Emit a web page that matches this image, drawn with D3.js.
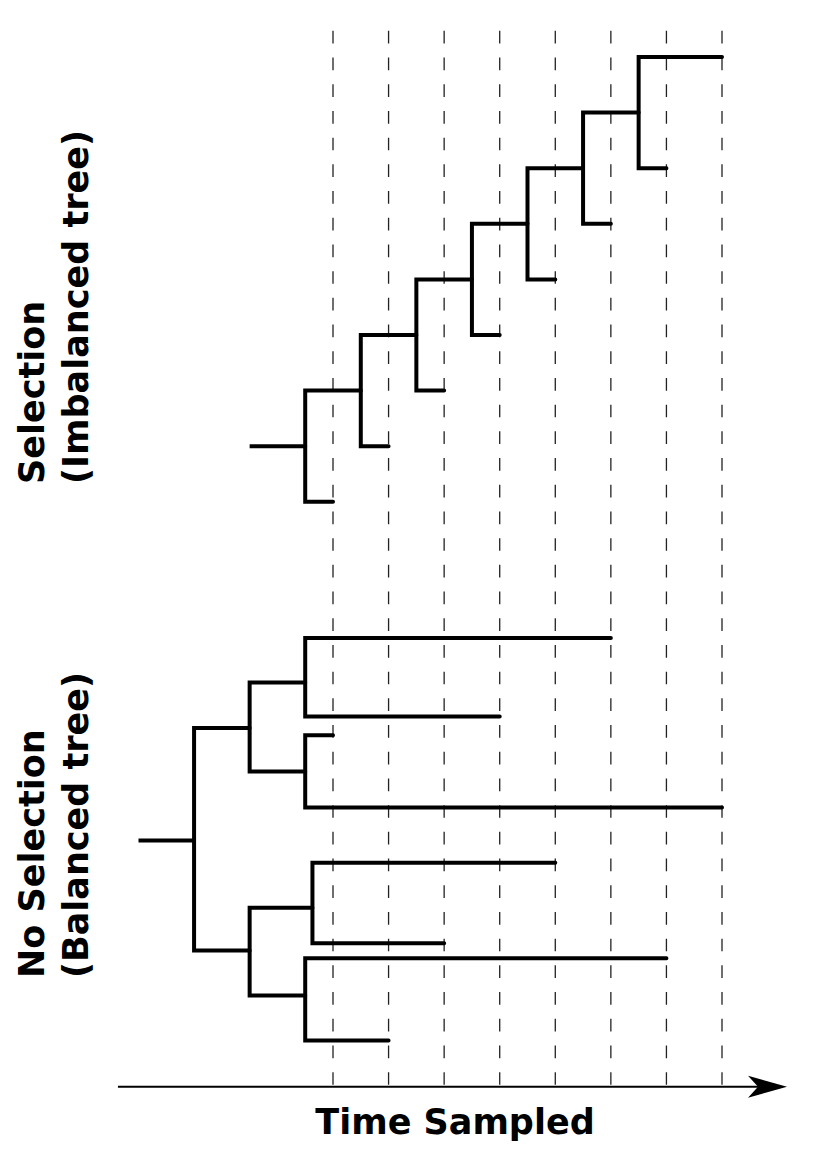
<!DOCTYPE html>
<html>
<head>
<meta charset="utf-8">
<script src="https://cdn.jsdelivr.net/npm/d3@7"></script>
<style>
  html, body { margin: 0; padding: 0; background: #fff; }
  svg { display: block; }
  text { font-family: "DejaVu Sans", sans-serif; font-weight: bold; fill: #000; }
</style>
</head>
<body>
<svg id="chart" width="826" height="1169"></svg>
<script>
// ---- data ----
const sampleTimes = [1, 2, 3, 4, 5, 6, 7, 8];
const axisLabel = "Time Sampled";
const panelLabels = [
  ["Selection", "(Imbalanced tree)"],
  ["No Selection", "(Balanced tree)"]
];
// [id, parentId, time, row]
const imbalancedTree = [
  ["o", null, -0.5, 7],
  ["n0", "o", 0.5, 7],
  ["t1", "n0", 1, 8],
  ["n1", "n0", 1.5, 6],
  ["t2", "n1", 2, 7],
  ["n2", "n1", 2.5, 5],
  ["t3", "n2", 3, 6],
  ["n3", "n2", 3.5, 4],
  ["t4", "n3", 4, 5],
  ["n4", "n3", 4.5, 3],
  ["t5", "n4", 5, 4],
  ["n5", "n4", 5.5, 2],
  ["t6", "n5", 6, 3],
  ["n6", "n5", 6.5, 1],
  ["t7", "n6", 7, 2],
  ["t8", "n6", 8, 0]
];
const balancedTree = [
  ["o", null, -2.5, 14.09],
  ["r", "o", -1.5, 14.09],
  ["ab", "r", -0.5, 12.07],
  ["a", "ab", 0.5, 11.25],
  ["l6", "a", 6, 10.45],
  ["l4", "a", 4, 11.86],
  ["b", "ab", 0.5, 12.85],
  ["l1", "b", 1, 12.2],
  ["l8", "b", 8, 13.5],
  ["cd", "r", -0.5, 16.07],
  ["c", "cd", 0.63, 15.3],
  ["l5", "c", 5, 14.49],
  ["l3", "c", 3, 15.94],
  ["d", "cd", 0.5, 16.88],
  ["l7", "d", 7, 16.21],
  ["l2", "d", 2, 17.69]
];
const axisTimeRange = [-2.87, 9.17];
const gridTopRow = -0.47;
const axisRow = 18.52;

// ---- scales ----
const x = d3.scaleLinear().domain([1, 8]).range([333, 722]);
const y = d3.scaleLinear().domain([0, 1]).range([57, 112.6]);

const svg = d3.select("#chart");

// dashed sampling lines
svg.append("g").selectAll("line").data(sampleTimes).join("line")
  .attr("x1", d => x(d)).attr("x2", d => x(d))
  .attr("y1", y(gridTopRow)).attr("y2", y(axisRow))
  .attr("stroke", "#222").attr("stroke-width", 1.3)
  .attr("stroke-dasharray", "12.7,14");

// trees
function drawTree(rows) {
  const root = d3.stratify()
    .id(d => d[0]).parentId(d => d[1])(rows);
  const g = svg.append("g")
    .attr("fill", "none").attr("stroke", "#000")
    .attr("stroke-width", 4).attr("stroke-linecap", "round")
    .attr("stroke-linejoin", "miter");
  root.each(node => {
    if (!node.children) return;
    const pt = node.data[2];
    const kids = node.children.slice().sort((a, b) => a.data[3] - b.data[3]);
    const first = kids[0], last = kids[kids.length - 1];
    let p = d3.path();
    p.moveTo(x(first.data[2]), y(first.data[3]));
    p.lineTo(x(pt), y(first.data[3]));
    p.lineTo(x(pt), y(last.data[3]));
    p.lineTo(x(last.data[2]), y(last.data[3]));
    g.append("path").attr("d", p.toString());
  });
}
drawTree(imbalancedTree);
drawTree(balancedTree);

// time axis with arrow
const ay = y(axisRow);
svg.append("line")
  .attr("x1", x(axisTimeRange[0])).attr("x2", x(axisTimeRange[1]) - 10)
  .attr("y1", ay).attr("y2", ay)
  .attr("stroke", "#000").attr("stroke-width", 2);
const tip = x(axisTimeRange[1]);
svg.append("path")
  .attr("d", `M${tip},${ay} L${tip - 39},${ay - 11} L${tip - 29},${ay} L${tip - 39},${ay + 11} Z`)
  .attr("fill", "#000");

svg.append("text")
  .attr("x", 455).attr("y", 1134)
  .attr("text-anchor", "middle")
  .attr("font-size", 35)
  .text(axisLabel);

// rotated panel labels
const labelStarts = [484, 978];
panelLabels.forEach((lines, i) => {
  lines.forEach((t, j) => {
    svg.append("text")
      .attr("transform", `translate(${44 + j * 44},${labelStarts[i]}) rotate(-90)`)
      .attr("text-anchor", "start")
      .attr("font-size", 35)
      .text(t);
  });
});
</script>
</body>
</html>
